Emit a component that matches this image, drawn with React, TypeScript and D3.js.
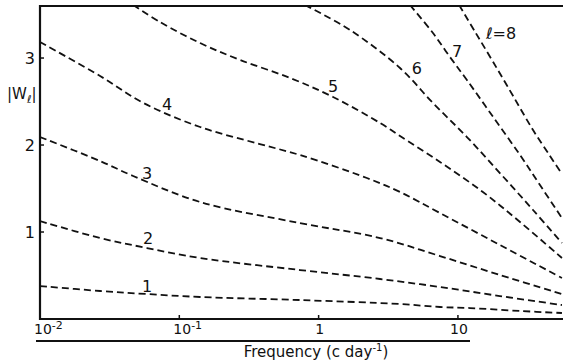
import React from "react";
import * as d3 from "d3";

// Curve data: frequency (c/day) and |W_l| for l = 1..8
const freq1 = [0.01, 0.027, 0.0586, 0.141, 0.734, 3.84, 7.43, 12.2, 27.9, 55.8];
const w1 = [0.379, 0.322, 0.287, 0.253, 0.218, 0.172, 0.138, 0.126, 0.092, 0.069];

const freq2 = [0.01, 0.027, 0.0586, 0.141, 0.734, 2.76, 7.43, 20.0, 55.8];
const w2 = [1.126, 0.931, 0.816, 0.701, 0.563, 0.46, 0.368, 0.264, 0.161];

const freq3 = [0.01, 0.027, 0.0466, 0.141, 0.734, 2.76, 7.43, 20.0, 55.8];
const w3 = [2.092, 1.816, 1.644, 1.345, 1.103, 0.931, 0.724, 0.506, 0.287];

const freq4 = [0.01, 0.027, 0.0553, 0.141, 0.378, 0.734, 2.22, 3.84, 7.43, 20.0, 55.8];
const w4 = [3.184, 2.793, 2.483, 2.207, 2.011, 1.885, 1.621, 1.46, 1.218, 0.851, 0.471];

const freq5 = [0.0466, 0.0726, 0.141, 0.274, 0.626, 1.27, 2.76, 3.84, 7.43, 15.1, 27.9, 55.8];
const w5 = [3.61, 3.414, 3.172, 2.977, 2.77, 2.552, 2.253, 2.103, 1.805, 1.46, 1.115, 0.701];

const freq6 = [0.798, 1.68, 3.84, 6.62, 11.6, 20.0, 34.6, 55.8];
const w6 = [3.609, 3.322, 2.885, 2.483, 2.092, 1.678, 1.253, 0.874];

const freq7 = [4.53, 6.62, 8.77, 11.6, 17.9, 27.9, 38.8, 55.8];
const w7 = [3.609, 3.287, 3.011, 2.747, 2.322, 1.885, 1.54, 1.161];

const freq8 = [10.2, 13.3, 17.9, 24.9, 34.6, 45.8, 55.8];
const w8 = [3.609, 3.299, 2.954, 2.563, 2.172, 1.874, 1.667];

const seriesFreqs = [freq1, freq2, freq3, freq4, freq5, freq6, freq7, freq8];
const seriesW = [w1, w2, w3, w4, w5, w6, w7, w8];

// Curve labels (text, frequency, |W|)
const labelTexts = ["1", "2", "3", "4", "5", "6", "7", "\u2113=8"];
const labelFreqs = [0.0586, 0.0596, 0.0586, 0.0817, 1.27, 5.08, 9.86, 20.4];
const labelWs = [0.368, 0.92, 1.678, 2.46, 2.667, 2.885, 3.08, 3.287];

// Axis ticks
const xTicks = [0.01, 0.1, 1, 10];
const xTickMain = ["10", "10", "1", "10"];
const xTickSup = ["-2", "-1", "", ""];
const yTicks = [1, 2, 3];

const W = 563;
const H = 364;
const left = 40;
const right = 562;
const top = 6;
const bottom = 319;
const FONT = "'DejaVu Sans', sans-serif";

export default function App() {
  const x = d3.scaleLog().domain([0.01, Math.pow(10, 1.747)]).range([left, right]);
  const y = d3.scaleLinear().domain([0, 3.598]).range([bottom, top]);

  const line = d3
    .line<[number, number]>()
    .x((d) => x(d[0]))
    .y((d) => y(d[1]))
    .curve(d3.curveCatmullRom.alpha(0.5));

  return (
    <svg
      width={W}
      height={H}
      viewBox={`0 0 ${W} ${H}`}
      style={{ position: "absolute", left: 0, top: 0, background: "#fff" }}
      fontFamily={FONT}
    >
      <defs>
        <clipPath id="plotclip">
          <rect x={left} y={top} width={right - left + 2} height={bottom - top} />
        </clipPath>
      </defs>
      <rect x={0} y={0} width={W} height={H} fill="#fff" />

      {/* curves */}
      <g clipPath="url(#plotclip)">
        {seriesFreqs.map((fs, i) => {
          const pts = fs.map((f, j) => [f, seriesW[i][j]] as [number, number]);
          return (
            <path
              key={i}
              d={line(pts) || ""}
              fill="none"
              stroke="#111"
              strokeWidth={1.8}
              strokeDasharray="7 4"
            />
          );
        })}
      </g>

      {/* frame */}
      <line x1={left} x2={W} y1={top} y2={top} stroke="#111" strokeWidth={2.2} />
      <line x1={left} x2={left} y1={top - 1} y2={bottom + 1} stroke="#111" strokeWidth={2.2} />
      <line x1={left - 1} x2={right + 1} y1={bottom} y2={bottom} stroke="#111" strokeWidth={2.2} />

      {/* y ticks */}
      {yTicks.map((t) => (
        <g key={t}>
          <line x1={left} x2={left + 4} y1={y(t)} y2={y(t)} stroke="#111" strokeWidth={1.5} />
          <text
            x={left - 5}
            y={y(t)}
            textAnchor="end"
            dominantBaseline="central"
            fontSize={16}
            fill="#111"
          >
            {t}
          </text>
        </g>
      ))}

      {/* x ticks */}
      {xTicks.map((t, i) => {
        const px = x(t);
        const hasSup = xTickSup[i] !== "";
        return (
          <g key={t}>
            {i > 0 && (
              <line x1={px} x2={px} y1={bottom} y2={bottom - 4} stroke="#111" strokeWidth={1.5} />
            )}
            <text
              x={hasSup ? px - 6 : px + 1}
              y={334}
              textAnchor={hasSup ? "start" : "middle"}
              fontSize={14}
              fill="#111"
            >
              {xTickMain[i]}
              {hasSup && (
                <tspan dy={-5} fontSize={11}>
                  {xTickSup[i]}
                </tspan>
              )}
            </text>
          </g>
        );
      })}

      {/* underline below tick labels */}
      <line x1={36} x2={470} y1={341} y2={341} stroke="#111" strokeWidth={2} />

      {/* x label */}
      <text x={316} y={357} textAnchor="middle" fontSize={15} fill="#111">
        Frequency (c day
        <tspan dy={-6} fontSize={10}>
          -1
        </tspan>
        <tspan dy={6}>)</tspan>
      </text>

      {/* y label */}
      <text x={7} y={99} fontSize={15} fill="#111">
        |W
        <tspan dy={4} fontSize={11}>
          {"\u2113"}
        </tspan>
        <tspan dy={-4}>|</tspan>
      </text>

      {/* curve labels */}
      {labelTexts.map((s, i) => (
        <text
          key={i}
          x={x(labelFreqs[i])}
          y={y(labelWs[i])}
          textAnchor="middle"
          dominantBaseline="central"
          fontSize={16}
          fill="#111"
        >
          {s}
        </text>
      ))}
    </svg>
  );
}
